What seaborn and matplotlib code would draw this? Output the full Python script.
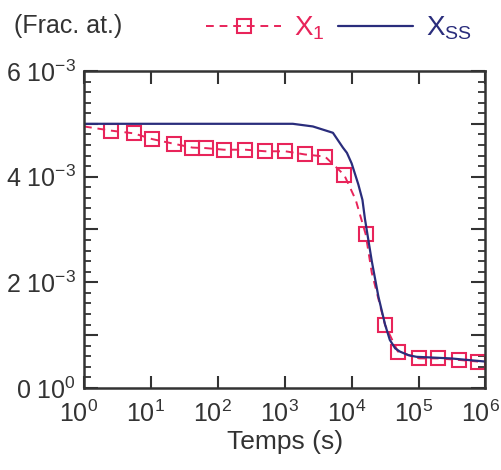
import matplotlib
matplotlib.use("Agg")
import matplotlib.pyplot as plt
import matplotlib.ticker as mticker
import matplotlib.transforms as mtransforms
import seaborn as sns

# -------------------------
# Data
# -------------------------
t_x1 = [1, 2.57, 5.5, 10.5, 22.4, 41.7, 66, 123, 257, 513, 1023, 2000, 4000,
        7760, 11500, 16200, 20000, 31600, 49000, 102000, 195000, 407000, 776000]
x1 = [4.95e-3, 4.87e-3, 4.82e-3, 4.71e-3, 4.62e-3, 4.55e-3, 4.54e-3, 4.51e-3,
      4.51e-3, 4.48e-3, 4.48e-3, 4.42e-3, 4.38e-3, 4.03e-3, 3.56e-3, 2.91e-3,
      2.18e-3, 1.19e-3, 0.69e-3, 0.56e-3, 0.56e-3, 0.53e-3, 0.50e-3]
# points of X_1 that carry a square marker (the others are only on the line)
x1_marked = [1, 2, 3, 4, 5, 6, 7, 8, 9, 10, 11, 12, 13, 15, 17, 18, 19, 20, 21, 22]

t_xss = [1, 10, 100, 1000, 1320, 2000, 2630, 5250, 7400, 8500, 10000, 12600,
         14500, 15800, 20000, 25100, 31600, 37200, 44700, 52500, 70800, 93300,
         300000, 1000000]
xss = [5.0e-3, 5.0e-3, 5.0e-3, 5.0e-3, 5.0e-3, 4.97e-3, 4.95e-3, 4.83e-3,
       4.55e-3, 4.45e-3, 4.25e-3, 3.85e-3, 3.56e-3, 3.2e-3, 2.4e-3, 1.73e-3,
       1.2e-3, 0.91e-3, 0.75e-3, 0.69e-3, 0.62e-3, 0.59e-3, 0.56e-3, 0.50e-3]

y_major = [0, 1e-3, 2e-3, 3e-3, 4e-3, 5e-3, 6e-3]
y_labels = [r"$\mathregular{0\ 10^{0}}$", "", r"$\mathregular{2\ 10^{-3}}$", "",
            r"$\mathregular{4\ 10^{-3}}$", "", r"$\mathregular{6\ 10^{-3}}$"]

red = "#E8245A"
blue = "#2A2D7C"
dark = "#333333"

# -------------------------
# Style
# -------------------------
sns.set_style("ticks")
plt.rcParams["font.family"] = ["Liberation Sans", "DejaVu Sans"]
plt.rcParams["mathtext.fontset"] = "custom"
plt.rcParams["mathtext.rm"] = "Liberation Sans"
plt.rcParams["mathtext.it"] = "Liberation Sans:italic"

fig = plt.figure(figsize=(5.01, 4.70), dpi=100)
ax = fig.add_axes([0.1677, 0.1745, 0.8013, 0.6745])

sns.lineplot(x=t_x1, y=x1, ax=ax, color=red, linestyle=(0, (4, 3)), linewidth=1.4,
             marker="s", markersize=10.5, markerfacecolor="none", markeredgecolor=red,
             markeredgewidth=1.5, markevery=x1_marked,
             label=r"$\mathregular{X_1}$", sort=False)
sns.lineplot(x=t_xss, y=xss, ax=ax, color=blue, linewidth=1.6,
             label=r"$\mathregular{X_{SS}}$", sort=False)

ax.set_xscale("log")
ax.set_xlim(1, 1e6)
ax.set_ylim(0, 6e-3)

ax.xaxis.set_major_locator(mticker.LogLocator(base=10, numticks=10))
ax.xaxis.set_minor_locator(mticker.NullLocator())
ax.yaxis.set_major_locator(mticker.FixedLocator(y_major))
ax.yaxis.set_major_formatter(mticker.FixedFormatter(y_labels))
ax.yaxis.set_minor_locator(mticker.MultipleLocator(0.2e-3))

ax.tick_params(axis="both", which="major", direction="in", top=True, right=True,
               length=9, width=1.5, color=dark, labelsize=18, labelcolor="#333333",
               pad=6)
ax.tick_params(axis="x", which="major", pad=9)
ax.tick_params(axis="y", which="major", length=10)
ax.tick_params(axis="y", which="minor", direction="in", right=True, length=5,
               width=1.3, color=dark)
for s in ax.spines.values():
    s.set_color(dark)
    s.set_linewidth(1.8)

# nudge x tick labels a bit left, as in the reference
shift = mtransforms.ScaledTranslation(-5 / 100, 0, fig.dpi_scale_trans)
for lab in ax.get_xticklabels():
    lab.set_transform(lab.get_transform() + shift)

ax.set_xlabel("Temps (s)", fontsize=19, color="#333333", labelpad=2)
ax.set_ylabel("")

fig.text(0.028, 0.945, "(Frac. at.)", fontsize=18, color="#333333", va="center")

leg = ax.legend(loc="center left", bbox_to_anchor=(0.305, 1.135), ncol=2,
                frameon=False, fontsize=20, handlelength=2.7, handletextpad=0.45,
                columnspacing=0.5, labelcolor="linecolor", borderaxespad=0,
                borderpad=0)

fig.savefig("out.png", dpi=100)
